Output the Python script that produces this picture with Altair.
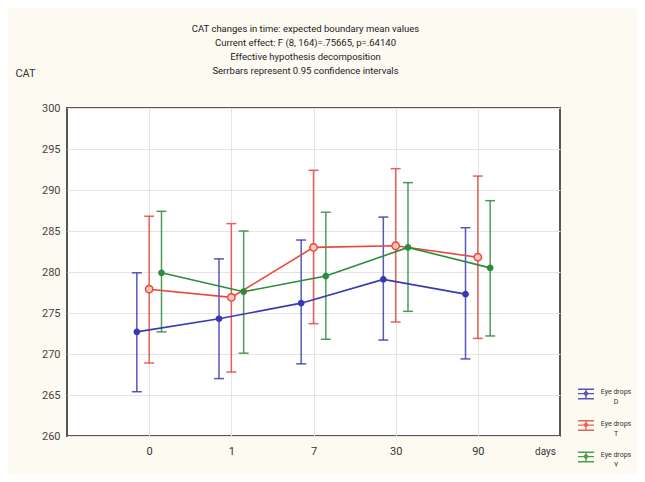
import json
import altair as alt
import pandas as pd

# ---- data ----
days = ["0", "1", "7", "30", "90"]
groups = ["D", "T", "Y"]
colors = ["#3a3ab0", "#e8473c", "#2e8b3c"]
marker_fills = ["#3a3ab0", "#f7c4bd", "#2e8b3c"]

mean_D = [272.7, 274.3, 276.2, 279.1, 277.3]
lo_D = [265.4, 267.0, 268.8, 271.7, 269.4]
hi_D = [279.9, 281.6, 283.9, 286.7, 285.4]

mean_T = [277.9, 276.9, 283.0, 283.2, 281.8]
lo_T = [268.9, 267.8, 273.7, 273.9, 271.9]
hi_T = [286.8, 285.9, 292.4, 292.6, 291.7]

mean_Y = [279.9, 277.6, 279.5, 283.0, 280.5]
lo_Y = [272.7, 270.1, 271.8, 275.2, 272.2]
hi_Y = [287.4, 285.0, 287.3, 290.9, 288.7]

y_ticks = [260, 265, 270, 275, 280, 285, 290, 295, 300]
title_lines = [
    "CAT changes in time: expected boundary mean values",
    "Current effect: F (8, 164)=.75665, p=.64140",
    "Effective hypothesis decomposition",
    "Serrbars represent 0.95 confidence intervals",
]

series = {"D": (mean_D, lo_D, hi_D), "T": (mean_T, lo_T, hi_T), "Y": (mean_Y, lo_Y, hi_Y)}
offsets = {"D": -0.15, "T": 0.0, "Y": 0.15}

rows = []
for g in groups:
    m, lo, hi = series[g]
    for i, d in enumerate(days):
        rows.append({"group": g, "day": d, "pos": i + 1 + offsets[g],
                     "mean": m[i], "lo": lo[i], "hi": hi[i]})
df = pd.DataFrame(rows)

FONT = "Roboto"
label_expr = json.dumps(days) + "[datum.value - 1]"

legend_path = ("M-1,-0.6H1M-1,-0.05H1M-1,0.6H1M0,-0.6V0.6"
               "M0,-0.3L0.25,-0.05L0,0.2L-0.25,-0.05Z")

color = alt.Color(
    "group:N",
    scale=alt.Scale(domain=groups, range=colors),
    legend=alt.Legend(
        orient="none", legendX=510, legendY=277, title=None,
        symbolType=legend_path, symbolSize=256, symbolStrokeWidth=1.4,
        labelExpr="['Eye drops', datum.label]", labelFont=FONT,
        labelFontSize=7, labelColor="#333", labelAlign="center",
        labelOffset=21, rowPadding=11.5, labelBaseline="alphabetic",
    ),
)

x = alt.X(
    "pos:Q",
    scale=alt.Scale(domain=[0, 6], nice=False, zero=False),
    axis=alt.Axis(
        values=[1, 2, 3, 4, 5], labelExpr=label_expr, title="days",
        titleX=478, titleY=15, titleAngle=0, titleAlign="center",
        titleBaseline="middle", titleFontWeight="normal", titleFont=FONT,
        titleFontSize=10, titleColor="#333",
        labelFont=FONT, labelFontSize=11, labelColor="#333",
        labelPadding=9, ticks=False, domain=False,
        grid=True, gridColor="#e4e4e4",
    ),
)
y = alt.Y(
    "mean:Q",
    scale=alt.Scale(domain=[260, 300], nice=False, zero=False),
    axis=alt.Axis(
        values=y_ticks, title="CAT", titleAngle=0, titleX=-42, titleY=-35,
        titleAlign="center", titleBaseline="middle", titleFontWeight="normal",
        titleFont=FONT, titleFontSize=11, titleColor="#333",
        labelFont=FONT, labelFontSize=11, labelColor="#444",
        labelPadding=7, ticks=False, domain=False,
        grid=True, gridColor="#e4e4e4",
    ),
)

base = alt.Chart(df)

rules = base.mark_rule(strokeWidth=1.5, opacity=0.85).encode(
    x=x, y=alt.Y("lo:Q"), y2="hi:Q", color=color)
caps_lo = base.mark_tick(size=10, thickness=1.5, opacity=0.85, orient="horizontal").encode(
    x=x, y=alt.Y("lo:Q"), color=color)
caps_hi = base.mark_tick(size=10, thickness=1.5, opacity=0.85, orient="horizontal").encode(
    x=x, y=alt.Y("hi:Q"), color=color)
lines = base.mark_line(strokeWidth=1.6).encode(
    x=x, y=y, color=color, detail="group:N")
points = base.mark_point(filled=False, strokeWidth=1.4, fillOpacity=1,
                         shape="circle").encode(
    x=x, y=y,
    stroke=alt.Stroke("group:N", scale=alt.Scale(domain=groups, range=colors), legend=None),
    fill=alt.Fill("group:N", scale=alt.Scale(domain=groups, range=marker_fills), legend=None),
    size=alt.condition("datum.group == 'T'", alt.value(55), alt.value(28)),
)

chart = alt.layer(rules, caps_lo, caps_hi, lines, points).properties(
    width=493, height=328,
    autosize=alt.AutoSizeParams(type="none"),
    padding={"left": 59, "top": 100, "right": 77, "bottom": 38},
    title=alt.TitleParams(
        text=title_lines, font=FONT, fontSize=9.5, fontWeight="normal",
        color="#222", lineHeight=14, anchor="middle", dx=-8, offset=-8,
    ),
).resolve_scale(fill="independent", stroke="independent").configure(
    background="#fdfaf2",
    style={"guide-label": {"lineHeight": 10}},
).configure_view(
    fill="white", stroke="#555", strokeWidth=2
)

chart.save("out.html", embed_options={"renderer": "svg", "actions": False})
